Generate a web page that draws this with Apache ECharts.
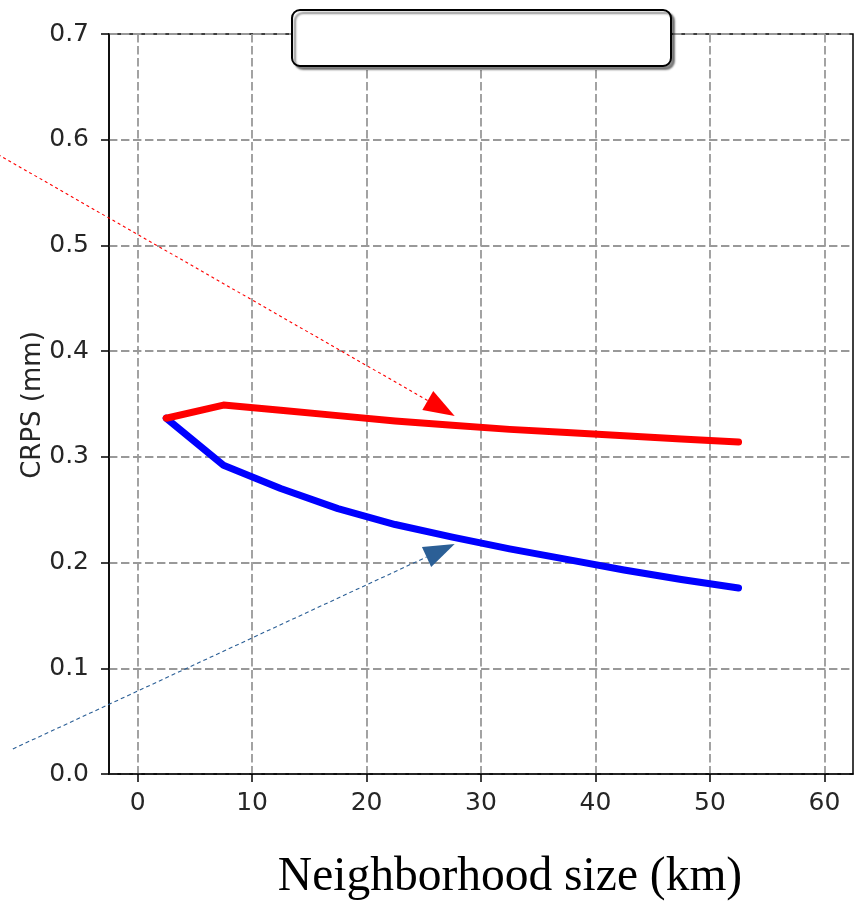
<!DOCTYPE html>
<html>
<head>
<meta charset="utf-8">
<script src="https://cdn.jsdelivr.net/npm/echarts@6/dist/echarts.min.js"></script>
<style>
  html, body { margin: 0; padding: 0; background: #fff; }
  #chart { width: 856px; height: 905px; }
</style>
</head>
<body>
<div id="chart"></div>
<script>
// Neighborhood sizes (km) at which the score is evaluated
const neighborhoodKm = [2.5, 7.5, 12.5, 17.5, 22.5, 27.5, 32.5, 37.5, 42.5, 47.5, 52.5];
// CRPS (mm) for the two configurations
const crpsRed  = [0.3365, 0.349, 0.344, 0.339, 0.334, 0.330, 0.326, 0.323, 0.320, 0.317, 0.314];
const crpsBlue = [0.3365, 0.292, 0.270, 0.251, 0.236, 0.224, 0.213, 0.203, 0.193, 0.184, 0.176];
// Axis ticks
const xTicks = [0, 10, 20, 30, 40, 50, 60];
const yTicks = [0, 0.1, 0.2, 0.3, 0.4, 0.5, 0.6, 0.7];
// Annotation arrows, in data units: [start, tip]
const redArrow  = [[-12.2, 0.586], [27.7, 0.3387]];
const blueArrow = [[-10.9, 0.0237], [27.7, 0.2176]];

const chart = echarts.init(document.getElementById('chart'), null, { renderer: 'canvas' });

const tickFont = { fontFamily: 'DejaVu Sans', fontSize: 25, color: '#262626' };
const gridDash = { color: '#999999', width: 1.8, type: [8.4, 3.6] };

function pairs(xs, ys) { return xs.map((x, i) => [x, ys[i]]); }

chart.setOption({
  animation: false,
  grid: {
    left: 109, top: 34, right: 3, bottom: 131,
    show: true, borderColor: '#000', borderWidth: 1.5, backgroundColor: 'transparent'
  },
  xAxis: {
    type: 'value', min: -2.5, max: 62.5,
    axisLine: { show: true, onZero: false, lineStyle: { color: '#000', width: 1.5 } },
    axisTick: { show: true, inside: false, length: 8, lineStyle: { color: '#000', width: 1.5 }, customValues: xTicks },
    axisLabel: { ...tickFont, margin: 17, customValues: xTicks },
    splitLine: { show: true, lineStyle: gridDash }
  },
  yAxis: {
    type: 'value', min: 0, max: 0.7, interval: 0.1,
    axisLine: { show: true, onZero: false, lineStyle: { color: '#000', width: 1.5 } },
    axisTick: { show: true, inside: false, length: 8, lineStyle: { color: '#000', width: 1.5 } },
    axisLabel: { ...tickFont, margin: 20, formatter: v => v.toFixed(1) },
    splitLine: { show: true, lineStyle: gridDash }
  },
  series: [
    {
      type: 'line', data: pairs(neighborhoodKm, crpsBlue), showSymbol: false, z: 3,
      lineStyle: { color: '#0000ff', width: 7, cap: 'round', join: 'round' }
    },
    {
      type: 'line', data: pairs(neighborhoodKm, crpsRed), showSymbol: false, z: 4,
      lineStyle: { color: '#ff0000', width: 7, cap: 'round', join: 'round' }
    }
  ]
});

// Arrow with a dashed shaft and a filled triangular head
function arrowGraphics(id, pts, color, dash) {
  const a = chart.convertToPixel({ gridIndex: 0 }, pts[0]);
  const b = chart.convertToPixel({ gridIndex: 0 }, pts[1]);
  const dx = b[0] - a[0], dy = b[1] - a[1];
  const len = Math.hypot(dx, dy);
  const ux = dx / len, uy = dy / len;
  const headLen = 31, headHalf = 11;
  const bx = b[0] - ux * headLen, by = b[1] - uy * headLen;
  return [
    {
      id: id + '-shaft', type: 'line', z: 20,
      shape: { x1: a[0], y1: a[1], x2: bx, y2: by },
      style: { stroke: color, lineWidth: 1.1, lineDash: dash }
    },
    {
      id: id + '-head', type: 'polygon', z: 21,
      shape: { points: [[b[0], b[1]], [bx - uy * headHalf, by + ux * headHalf], [bx + uy * headHalf, by - ux * headHalf]] },
      style: { fill: color }
    }
  ];
}

chart.setOption({
  graphic: [
    // boxed panel over the top of the frame
    {
      id: 'panel', type: 'rect', z: 30,
      shape: { x: 292, y: 10, width: 379, height: 56, r: 8 },
      style: {
        fill: '#fff', stroke: '#000', lineWidth: 2,
        shadowColor: 'rgba(0,0,0,0.45)', shadowBlur: 2, shadowOffsetX: 3, shadowOffsetY: 3
      }
    },
    {
      id: 'ylabel', type: 'text', z: 30, x: 33, y: 405, rotation: Math.PI / 2,
      style: {
        text: 'CRPS (mm)', fontFamily: 'DejaVu Sans', fontSize: 26, fill: '#262626',
        align: 'center', verticalAlign: 'middle'
      }
    },
    {
      id: 'xlabel', type: 'text', z: 30, x: 510, y: 878,
      style: {
        text: 'Neighborhood size (km)', fontFamily: 'Liberation Serif', fontSize: 47.5, fill: '#000',
        align: 'center', verticalAlign: 'middle'
      }
    },
    ...arrowGraphics('red-arrow', redArrow, '#ff0000', [3, 3]),
    ...arrowGraphics('blue-arrow', blueArrow, '#2b5f96', [4, 3])
  ]
});
</script>
</body>
</html>
